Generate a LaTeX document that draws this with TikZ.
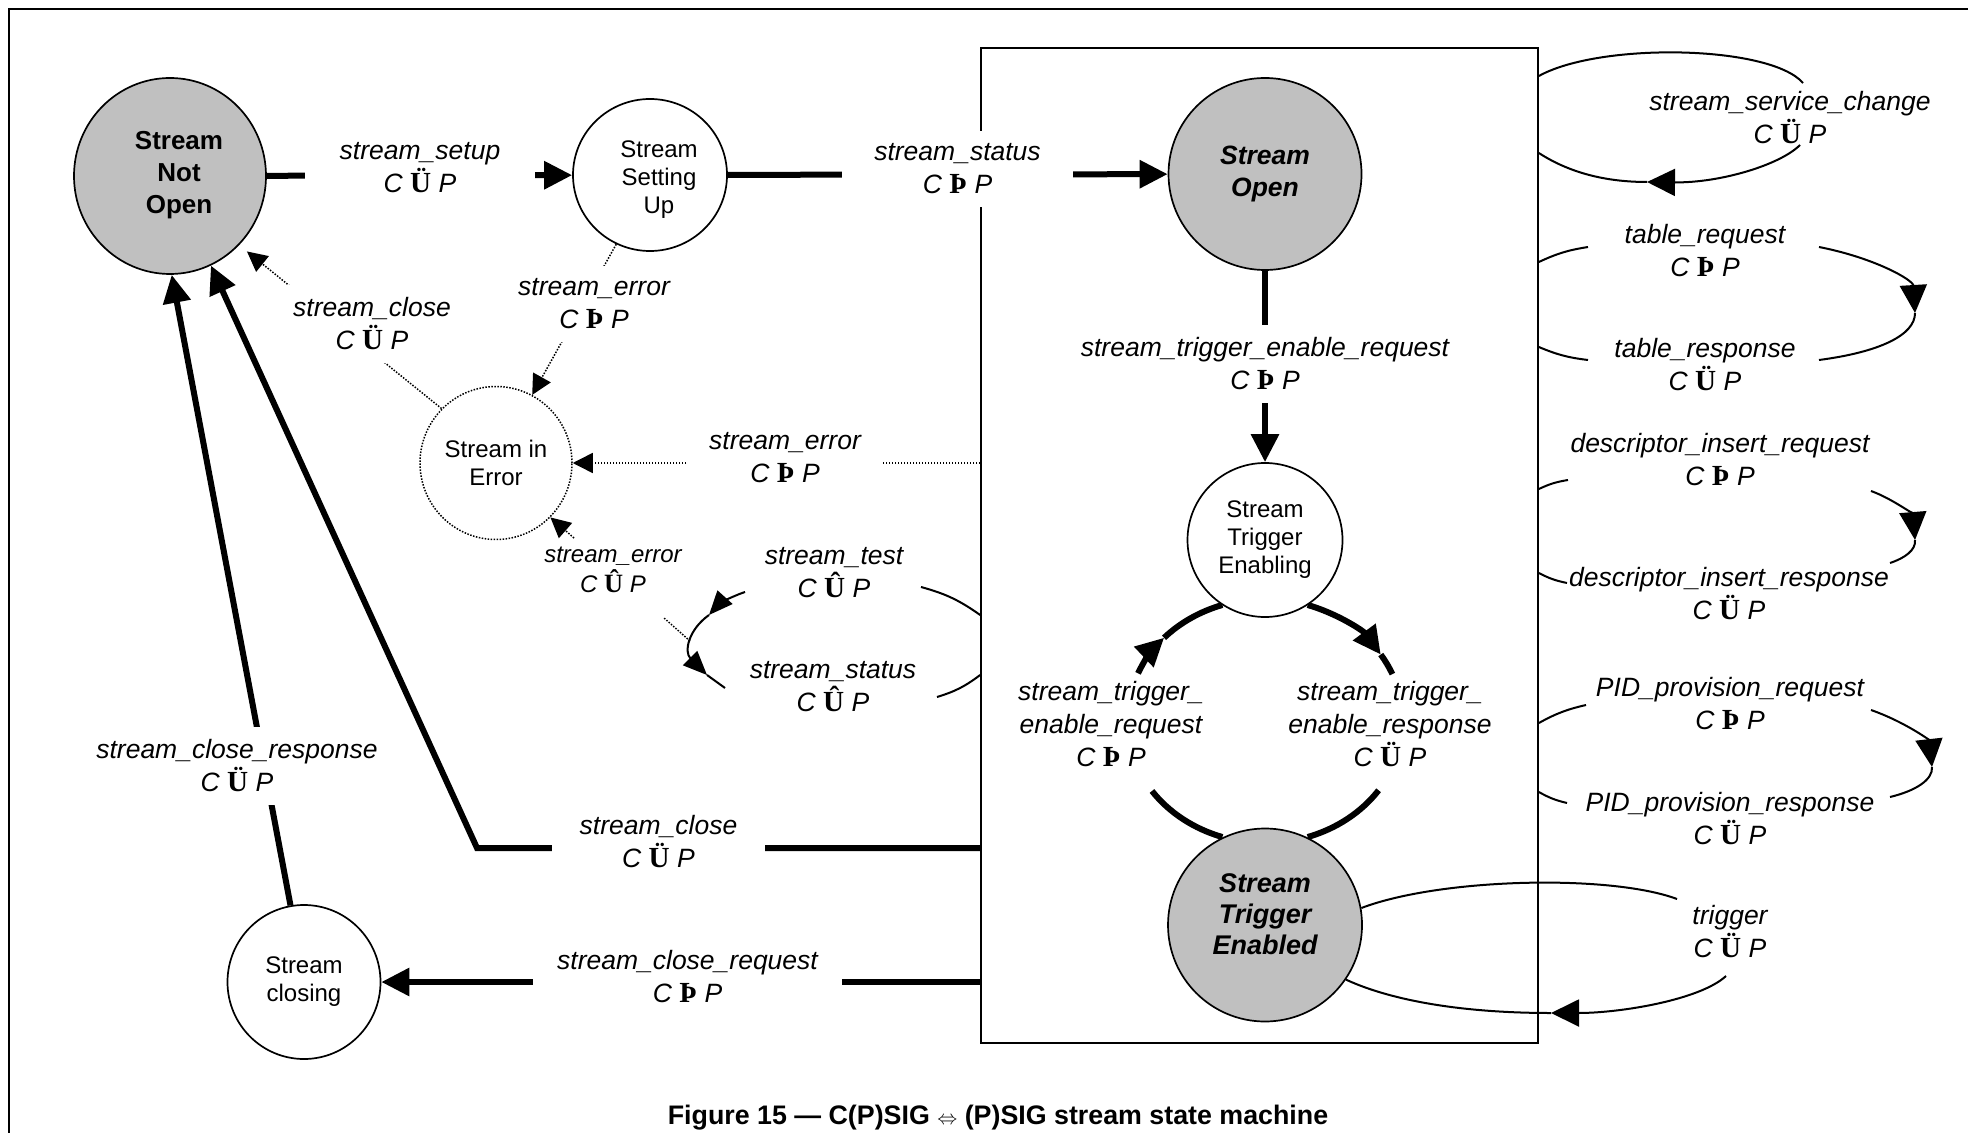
\documentclass[tikz,border=0pt]{standalone}
\usepackage{fontspec}
\usepackage{graphicx}
\setmainfont{Liberation Sans}
\newfontfamily\serifsym{Liberation Serif}
\usetikzlibrary{arrows.meta,shapes.geometric,calc}
\pgfdeclarelayer{bg}
\pgfsetlayers{bg,main}
\definecolor{statefill}{RGB}{192,192,192}
% direction glyph between C and P
\newcommand{\flowsym}[1]{\scalebox{1.1}{\serifsym\bfseries\upshape #1}}

\tikzset{
  state/.style={ellipse, draw, fill=white, line width=0.85pt, inner sep=0pt, align=center,
                font=\fontsize{12pt}{14pt}\selectfont},
  keystate/.style={state, fill=statefill, font=\bfseries\fontsize{13pt}{16pt}\selectfont},
  statetext/.style={align=center, font=\fontsize{12pt}{14pt}\selectfont},
  keytext/.style={align=center, font=\bfseries\fontsize{13pt}{16pt}\selectfont},
  lblx/.style={align=center, inner xsep=0pt, inner ysep=6.5pt,
               font=\itshape\fontsize{13.25pt}{16.5pt}\selectfont},
  lbl/.style={lblx, fill=white, inner xsep=16pt},
  heavy/.style={line width=3pt},
  light/.style={line width=1pt},
  dots/.style={line width=0.75pt, dash pattern=on 0.75pt off 0.75pt},
  tip/.style={-{Triangle[length=14pt,width=13.5pt]}},
  smalltip/.style={-{Triangle[length=10pt,width=10pt]}},
  looptip/.style={-{Triangle[length=12pt,width=10pt]}},
}

\begin{document}
\begin{tikzpicture}[x=0.5pt, y=-0.5pt]
\useasboundingbox (0,0) rectangle (1968,1133);
\begin{pgfonlayer}{bg}
  \fill[white] (0,0) rectangle (1968,1133);
\end{pgfonlayer}

% outer frame
\draw[line width=1.3pt] (9,1140) -- (9,9) -- (1975,9);

% super-state box
\node[draw, line width=0.85pt, minimum width=278.5pt, minimum height=497.5pt, inner sep=0pt]
  (sup) at (1259.5,545.5) {};

% states
\node[keystate, minimum width=96pt, minimum height=98pt] (notopen) at (170,176) {};
\node[keytext] (notopentext) at (179,175) {Stream\\Not\\Open};
\node[state, minimum width=77pt, minimum height=76pt] (setting) at (650,175) {};
\node[statetext] (settingtext) at (659,180) {Stream\\Setting\\Up};
\node[keystate, font=\bfseries\itshape\fontsize{13.25pt}{16pt}\selectfont,
      minimum width=96.5pt, minimum height=96pt] (open) at (1265,174) {Stream\\Open};
\node[state, dots, minimum width=76pt, minimum height=76.5pt] (error) at (496,463) {Stream in\\Error};
\node[state, minimum width=77.5pt, minimum height=77pt] (enabling) at (1265,540) {Stream\\Trigger\\Enabling};
\node[keystate, minimum width=97pt, minimum height=96.5pt] (enabled) at (1265,925) {};
\node[align=center, font=\bfseries\itshape\fontsize{13.5pt}{15.5pt}\selectfont]
  (enabledtext) at (1265,914) {Stream\\Trigger\\Enabled};
\node[state, minimum width=76.5pt, minimum height=77pt] (closing) at (304,982) {Stream\\closing};

% loop points
\coordinate (lc) at (1265,721);
\coordinate (cc) at (477,848);
\coordinate (st1) at (921,587);
\coordinate (st2) at (745,592);
\coordinate (sttip) at (709,615);
\coordinate (sttip2) at (707,675);
\coordinate (st3) at (725,688);
\coordinate (st4) at (937,697);
\coordinate (junc) at (690,641);
\coordinate (e1) at (664,618);
\coordinate (e2) at (574,538);
\coordinate (ss1) at (1803,83);
\coordinate (ss2) at (1800,145);
\coordinate (sstip) at (1647,182);
\coordinate (tr1) at (1588,247);
\coordinate (tr2) at (1819,247);
\coordinate (trtip) at (1915,313);
\coordinate (tr3) at (1819,360);
\coordinate (tr4) at (1588,360);
\coordinate (dr1) at (1568,480);
\coordinate (dr2) at (1871,491);
\coordinate (drtip) at (1915,540);
\coordinate (dr3) at (1890,563);
\coordinate (dr4) at (1567,583);
\coordinate (pr1) at (1586,705);
\coordinate (pr2) at (1871,710);
\coordinate (prtip) at (1932,767);
\coordinate (pr3) at (1890,797);
\coordinate (pr4) at (1567,803);
\coordinate (t1) at (1677,899);
\coordinate (t2) at (1726,976);
\coordinate (ttip) at (1551,1013);

\begin{pgfonlayer}{bg}
  % main path of the machine
  \draw[heavy,tip] (notopen) -- (setting);
  \draw[heavy,tip] (setting) -- (open);
  \draw[heavy,tip] (open) -- (enabling);

  % trigger enable request / response ring
  \draw[heavy] ([shift={(252:69pt and 61pt)}]lc) arc[start angle=252, end angle=215, x radius=69pt, y radius=61pt];
  \draw[heavy,tip] ([shift={(157:69pt and 61pt)}]lc) arc[start angle=157, end angle=137, x radius=69pt, y radius=61pt];
  \draw[heavy] ([shift={(137:69pt and 61pt)}]lc) arc[start angle=137, end angle=108, x radius=69pt, y radius=61pt];
  \draw[heavy,tip] ([shift={(72:69pt and 61pt)}]lc) arc[start angle=72, end angle=33, x radius=69pt, y radius=61pt];
  \draw[heavy] ([shift={(33:69pt and 61pt)}]lc) arc[start angle=33, end angle=22.6, x radius=69pt, y radius=61pt];
  \draw[heavy] ([shift={(-34.6:69pt and 61pt)}]lc) arc[start angle=-34.6, end angle=-72, x radius=69pt, y radius=61pt];

  % error transitions
  \draw[dots,smalltip] (setting.-116) -- (error.62);
  \draw[dots,smalltip,shorten >=5pt] (error.135) -- (notopen.-45);
  \draw[dots,smalltip] (sup.west |- error) -- (error);
  \draw[dots] (junc) -- (e1);
  \draw[dots,smalltip] (e2) -- (error.-45);

  % closing transitions
  \draw[heavy,tip] (sup.west |- cc) -- (cc) -- (notopen);
  \draw[heavy,tip] (sup.west |- closing) -- (closing);
  \draw[heavy,tip] (closing.100) -- (notopen.-89);

  % stream_test / stream_status loop
  \draw[light] (sup.west |- 0,615) to[bend right=10] (st1);
  \draw[light,looptip] (st2) .. controls (730,597) and (718,605) .. (sttip);
  \draw[light,looptip] (sttip) .. controls (688,630) and (684,652) .. (sttip2);
  \draw[light] (sttip2) -- (st3);
  \draw[light] (st4) to[bend right=10] (sup.west |- 0,675);

  % stream_service_change loop
  \draw[light] (sup.east |- 0,76) .. controls (1600,42) and (1770,45) .. (ss1);
  \draw[light,tip] (ss2) .. controls (1780,165) and (1720,183) .. (sstip);
  \draw[light] (sstip) .. controls (1600,182) and (1565,170) .. (sup.east |- 0,153);

  % table loop
  \draw[light] (sup.east |- 0,262) to[bend left=8] (tr1);
  \draw[light,tip] (tr2) .. controls (1875,258) and (1913,280) .. (trtip);
  \draw[light] (trtip) .. controls (1915,335) and (1880,352) .. (tr3);
  \draw[light] (tr4) to[bend left=8] (sup.east |- 0,347);

  % descriptor loop
  \draw[light] (sup.east |- 0,489) to[bend left=8] (dr1);
  \draw[light,tip] (dr2) .. controls (1893,499) and (1913,515) .. (drtip);
  \draw[light] (drtip) .. controls (1916,550) and (1905,558) .. (dr3);
  \draw[light] (dr4) to[bend left=8] (sup.east |- 0,573);

  % PID loop
  \draw[light] (sup.east |- 0,723) to[bend left=8] (pr1);
  \draw[light,tip] (pr2) .. controls (1905,722) and (1929,740) .. (prtip);
  \draw[light] (prtip) .. controls (1933,780) and (1915,791) .. (pr3);
  \draw[light] (pr4) to[bend left=8] (sup.east |- 0,792);

  % trigger loop
  \draw[light] (enabled.10) .. controls (1440,878) and (1610,874) .. (t1);
  \draw[light,tip] (t2) .. controls (1700,1000) and (1620,1013) .. (ttip);
  \draw[light] (ttip) .. controls (1460,1013) and (1390,1000) .. (enabled.-34);
\end{pgfonlayer}

% transition labels
\node[lbl, inner xsep=17.5pt] (lsetup) at (420,167.5) {stream\_setup\\C \flowsym{Ü} P};
\node[lbl, inner xsep=16pt] (lstatus) at (957.5,169) {stream\_status\\C \flowsym{Þ} P};
\node[lbl] (lter) at (1265,364) {stream\_trigger\_enable\_request\\C \flowsym{Þ} P};
\node[lbl, inner xsep=4pt] (lerr1) at (594,304) {stream\_error\\C \flowsym{Þ} P};
\node[lbl, inner xsep=4pt] (lclose1) at (372,324) {stream\_close\\C \flowsym{Ü} P};
\node[lbl, inner xsep=10.5pt] (lerr2) at (785,457.5) {stream\_error\\C \flowsym{Þ} P};
\node[lblx, font=\itshape\fontsize{12pt}{15pt}\selectfont] (lerr3) at (613,570) {stream\_error\\C \flowsym{Û} P};
\node[lblx] (ltest) at (834,572.5) {stream\_test\\C \flowsym{Û} P};
\node[lblx] (lstat2) at (833,687) {stream\_status\\C \flowsym{Û} P};
\node[lbl, inner xsep=14pt] (lclose2) at (658.5,841.5) {stream\_close\\C \flowsym{Ü} P};
\node[lbl, inner xsep=12pt] (lcreq) at (687.5,976.5) {stream\_close\_request\\C \flowsym{Þ} P};
\node[lbl] (lcresp) at (237,766) {stream\_close\_response\\C \flowsym{Ü} P};
\node[lblx] (lteq) at (1111,724.5) {stream\_trigger\_\\enable\_request\\C \flowsym{Þ} P};
\node[lblx] (ltep) at (1390,724.5) {stream\_trigger\_\\enable\_response\\C \flowsym{Ü} P};
\node[lblx] (ltrig) at (1730,932) {trigger\\C \flowsym{Ü} P};
\node[lblx] (lsvc) at (1790,118) {stream\_service\_change\\C \flowsym{Ü} P};
\node[lblx] (ltreq) at (1705,251) {table\_request\\C \flowsym{Þ} P};
\node[lblx] (ltresp) at (1705,365) {table\_response\\C \flowsym{Ü} P};
\node[lblx] (ldreq) at (1720,460) {descriptor\_insert\_request\\C \flowsym{Þ} P};
\node[lblx] (ldresp) at (1729,593.5) {descriptor\_insert\_response\\C \flowsym{Ü} P};
\node[lblx] (lpreq) at (1730,703.5) {PID\_provision\_request\\C \flowsym{Þ} P};
\node[lblx] (lpresp) at (1730,818.5) {PID\_provision\_response\\C \flowsym{Ü} P};

% caption
\node[font=\bfseries\fontsize{13.4pt}{16pt}\selectfont] (caption) at (998,1118)
  {Figure 15 — C(P)SIG {\fontsize{10pt}{10pt}\selectfont$\Leftrightarrow$} (P)SIG stream state machine};
\end{tikzpicture}
\end{document}
